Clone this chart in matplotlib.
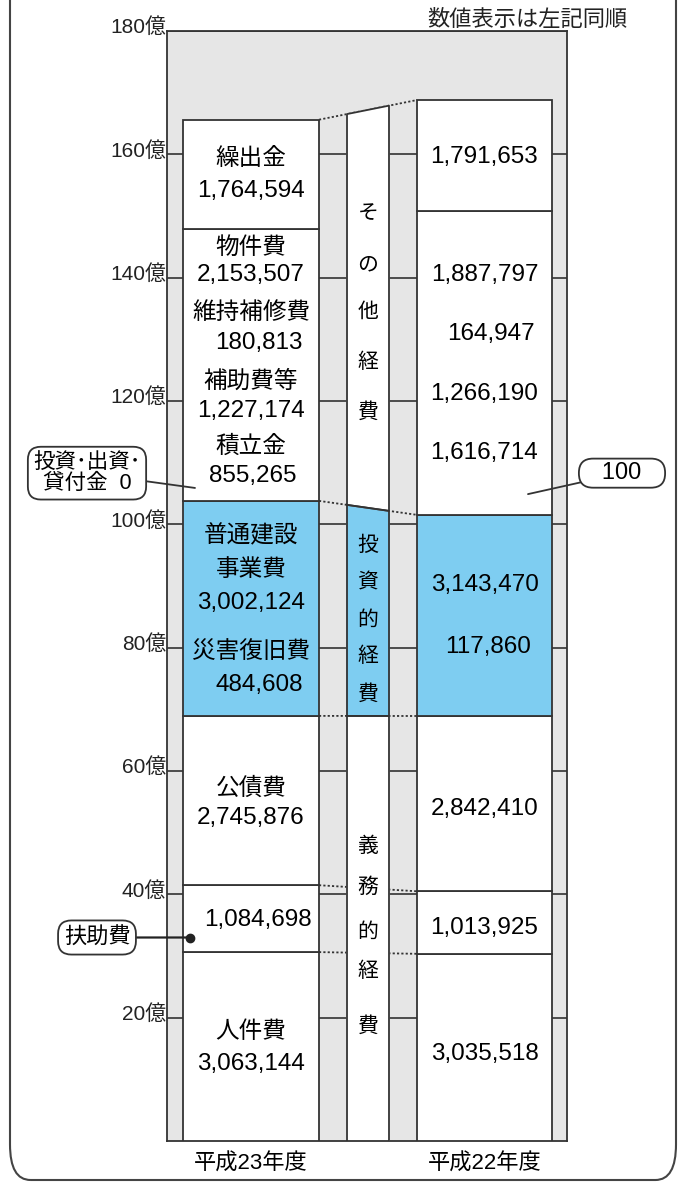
import numpy as np
import matplotlib
matplotlib.use("Agg")
import matplotlib.pyplot as plt
from matplotlib.patches import FancyBboxPatch

JP = "Noto Sans CJK JP"
NUM = ["Liberation Sans", "Noto Sans CJK JP"]

# data (thousand yen), bottom -> top
items = ["人件費", "扶助費", "公債費", "普通建設事業費", "災害復旧費", "投資・出資・貸付金",
         "積立金", "補助費等", "維持補修費", "物件費", "繰出金"]
h23 = [3063144, 1084698, 2745876, 3002124, 484608, 0,
       855265, 1227174, 180813, 2153507, 1764594]
h22 = [3035518, 1013925, 2842410, 3143470, 117860, 100,
       1616714, 1266190, 164947, 1887797, 1791653]
years = ["平成23年度", "平成22年度"]

# boxes drawn in each bar (index ranges of items)
groups = [(0, 1), (1, 2), (2, 3), (3, 6), (6, 10), (10, 11)]
group_color = ["white", "white", "white", "#7ecdf1", "white", "white"]
# middle column: 義務的経費 / 投資的経費 / その他経費
mid_groups = [(0, 3), (3, 6), (6, 11)]
mid_names = ["義務的経費", "投資的経費", "その他経費"]
mid_color = ["white", "#7ecdf1", "white"]

yticks = np.arange(20, 181, 20)

cum23 = np.concatenate([[0], np.cumsum(h23)]) / 1e5   # 億円
cum22 = np.concatenate([[0], np.cumsum(h22)]) / 1e5

# layout (x in axes units 0..400)
xl, wl = 84, 136
xm, wm = 201, 42
xr, wr = 317.5, 135

fig = plt.figure(figsize=(6.84, 11.86), dpi=100)
ax = fig.add_axes([167 / 684, 45 / 1186, 400 / 684, 1110 / 1186])
ax.set_facecolor("#e6e6e6")
ax.set_xlim(0, 400)
ax.set_ylim(0, 180)
for s in ax.spines.values():
    s.set_color("#333333")
    s.set_linewidth(1.3)
ax.set_xticks([])
ax.set_yticks([])

for t in yticks:
    ax.axhline(t, color="#333333", lw=1.2, zorder=1)
    ax.text(-1, t + 0.6, f"{t}億", ha="right", va="center", fontsize=15,
            family=NUM, color="#222222")

ec = "#333333"
for i, (a, b) in enumerate(groups):
    ax.bar(xl, cum23[b] - cum23[a], bottom=cum23[a], width=wl, color=group_color[i],
           edgecolor=ec, lw=1.3, zorder=3)
    ax.bar(xr, cum22[b] - cum22[a], bottom=cum22[a], width=wr, color=group_color[i],
           edgecolor=ec, lw=1.3, zorder=3)

x0, x1 = xl + wl / 2, xr - wr / 2
mx0, mx1 = xm - wm / 2, xm + wm / 2


def interp(idx, x):
    return cum23[idx] + (cum22[idx] - cum23[idx]) * (x - x0) / (x1 - x0)


# middle column
for i, (a, b) in enumerate(mid_groups):
    px = [mx0, mx1, mx1, mx0, mx0]
    py = [interp(a, mx0), interp(a, mx1), interp(b, mx1), interp(b, mx0), interp(a, mx0)]
    ax.fill(px, py, color=mid_color[i], zorder=4)
    ax.plot(px, py, color=ec, lw=1.3, zorder=5)

# dotted connectors
for idx in [1, 2, 3, 6, 11]:
    ax.plot([x0, x1], [cum23[idx], cum22[idx]], color="#333333", lw=1.3,
            ls=(0, (1.2, 1.2)), zorder=2)

# vertical labels in middle column
mid_y = [[47.9, 41.2, 33.9, 27.5, 18.6], [96.6, 90.5, 84.6, 78.6, 72.5],
         [150.5, 142.1, 134.4, 126.4, 118.3]]
for name, ys in zip(mid_names, mid_y):
    for ch, y in zip(name, ys):
        ax.text(xm, y, ch, ha="center", va="center", fontsize=15, family=JP, zorder=6)

# labels in left bar: name, number, name y, number y, number x shift
left_labels = [
    ("繰出金", "1,764,594", 159.3, 154.0, 0),
    ("物件費", "2,153,507", 144.9, 140.4, 0),
    ("維持補修費", "180,813", 134.4, 129.4, 8),
    ("補助費等", "1,227,174", 123.2, 118.3, 0),
    ("積立金", "855,265", 112.7, 107.9, 2),
    ("普通建設", "", 98.1, 0, 0),
    ("事業費", "3,002,124", 92.6, 87.3, 0),
    ("災害復旧費", "484,608", 79.3, 74.0, 8),
    ("公債費", "2,745,876", 57.2, 52.4, 0),
    ("", "1,084,698", 0, 35.9, 7),
    ("人件費", "3,063,144", 17.8, 12.5, 0),
]
for name, num, yn, yv, dx in left_labels:
    if name:
        ax.text(xl, yn, name, ha="center", va="center", fontsize=17, family=JP, zorder=6)
    if num:
        ax.text(xl + dx, yv, num, ha="center", va="center", fontsize=17.5, family=NUM,
                zorder=6)

# numbers in right bar
right_nums = [("1,791,653", 159.6, 0), ("1,887,797", 140.4, 0), ("164,947", 130.9, 6),
              ("1,266,190", 121.1, 0), ("1,616,714", 111.6, 0), ("3,143,470", 90.2, 0),
              ("117,860", 80.1, 4), ("2,842,410", 53.9, 0), ("1,013,925", 34.6, 0),
              ("3,035,518", 14.1, 0)]
for num, y, dx in right_nums:
    ax.text(xr + dx, y, num, ha="center", va="center", fontsize=17.5, family=NUM, zorder=6)

# callouts
bbox = dict(boxstyle="round,pad=0.25,rounding_size=0.6", fc="white", ec="#333333", lw=1.3)
ax.annotate("投資･出資･\n貸付金  0", xy=(28, 105.9), xytext=(-80, 108.3),
            ha="center", va="center", fontsize=15.5, family=NUM, linespacing=1.0,
            bbox=bbox, annotation_clip=False, zorder=7,
            arrowprops=dict(arrowstyle="-", color="#333333", lw=1.3, shrinkA=0, shrinkB=0))
ax.annotate("   100   ", xy=(361, 104.9), xytext=(455, 108.3),
            ha="center", va="center", fontsize=17, family=NUM,
            bbox=dict(boxstyle="round,pad=0.15,rounding_size=0.6", fc="white", ec="#333333",
                      lw=1.3),
            annotation_clip=False, zorder=7,
            arrowprops=dict(arrowstyle="-", color="#333333", lw=1.3, shrinkA=0, shrinkB=0))
ax.annotate("扶助費", xy=(23, 33.0), xytext=(-70, 33.0),
            ha="center", va="center", fontsize=16, family=JP,
            bbox=bbox, annotation_clip=False, zorder=7,
            arrowprops=dict(arrowstyle="-", color="#222222", lw=1.6, shrinkA=0, shrinkB=0))
ax.plot(23, 33.0, "o", color="#222222", ms=6, zorder=8)

# year labels
ax.text(xl, -2, years[0], ha="center", va="top", fontsize=16, family=NUM, clip_on=False)
ax.text(xr, -2, years[1], ha="center", va="top", fontsize=16, family=NUM, clip_on=False)

fig.text(628 / 684, 1 - 20 / 1186, "数値表示は左記同順", ha="right", va="center",
         fontsize=16, family=JP, color="#222222")

# outer rounded frame
frame = FancyBboxPatch((10 / 684, 6 / 1186), 666 / 684, 1.2,
                       boxstyle="round,pad=0,rounding_size=0.03",
                       transform=fig.transFigure, fc="none", ec="#444444", lw=1.5)
fig.patches.append(frame)

fig.savefig("out.png", dpi=100)
